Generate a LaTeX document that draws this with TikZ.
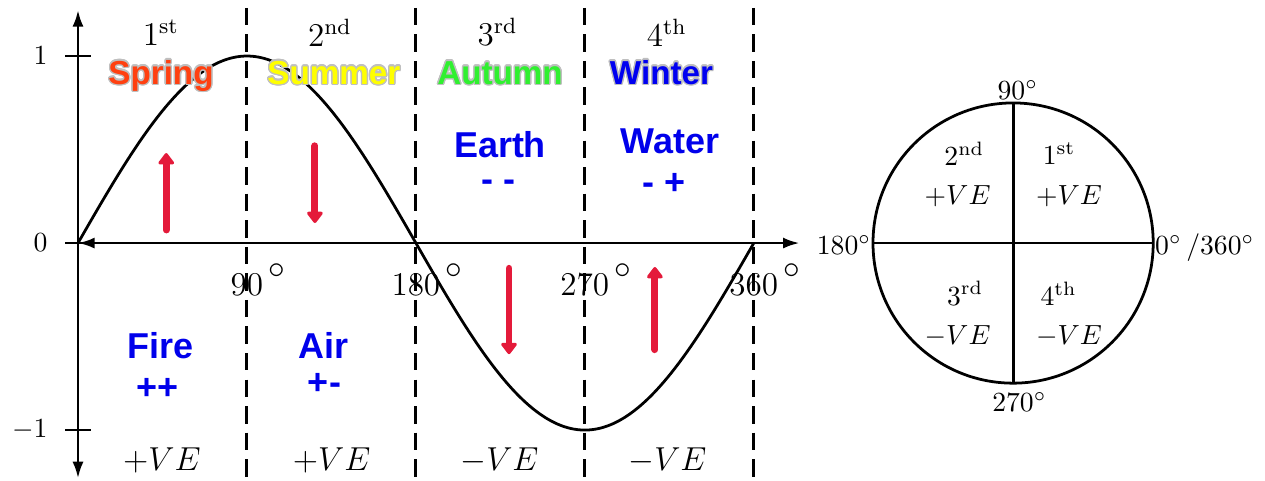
\documentclass[tikz,border=0pt]{standalone}
\usepackage{fontspec}
\usepackage{contour}
\usetikzlibrary{arrows.meta,positioning}
\newfontfamily\arialfont{Liberation Sans}
\definecolor{springred}{RGB}{255,64,16}
\definecolor{summeryellow}{RGB}{255,255,0}
\definecolor{autumngreen}{RGB}{48,240,48}
\definecolor{winterblue}{RGB}{0,0,240}
\definecolor{elemblue}{RGB}{0,0,235}
\definecolor{flowred}{RGB}{228,26,58}
\contourlength{0.5pt}

\begin{document}
\begin{tikzpicture}[
  axis/.style={line width=1pt, {Latex[length=6pt,width=4pt]}-{Latex[length=6pt,width=4pt]}},
  quarter/.style={line width=1.1pt, dash pattern=on 6.3pt off 3.3pt},
  season/.style={anchor=base, font=\arialfont\bfseries\fontsize{12}{14}\selectfont},
  element/.style={anchor=base, text=elemblue, font=\arialfont\bfseries\fontsize{13}{15}\selectfont},
  flow/.style={flowred, line width=2.5pt, line cap=round, -{Triangle[round, length=4.5pt, width=6.5pt]}},
  quadlabel/.style={font=\large},
  anglabel/.style={font=\large, inner sep=0pt},
  degsign/.style={font=\large, inner sep=0pt, anchor=west},
]
  \useasboundingbox (-0.991,-3.011) rectangle (15.08,3.088);

  % Sine graph: x in degrees, y in units
  \begin{scope}[x=0.023856cm, y=2.376cm]
    % Quarter separators and angle labels
    \foreach \a in {90,180,270,360} {
      \draw[quarter] (\a,1.258) -- (\a,-1.3);
      \node[anglabel] (ang\a) at (\a,-0.225) {$\a$};
      \node[degsign] (deg\a) at ([xshift=0.05cm,yshift=0.03cm]ang\a.north east) {$\circ$};
    }

    % Axes
    \draw[axis] (0,-1.258) -- (0,1.246);
    \draw[axis] (0,0) -- (384.4,0);
    \foreach \v in {-1,0,1} {
      \draw[line width=1pt] ([xshift=-0.165cm]0,\v) -- ([xshift=0.165cm]0,\v);
      \node[anchor=east, inner sep=0pt] (ylab\v) at ([xshift=-0.38cm]0,\v) {$\v$};
    }

    % Sine wave
    \draw[line width=1pt] plot[domain=0:360, samples=121, smooth] (\x,{sin(\x)});

    % Quadrant numbers
    \foreach \pos/\num/\sfx in {44.2/1/st, 134.2/2/nd, 223.5/3/rd, 313.7/4/th} {
      \node[quadlabel] (quad\num) at (\pos,1.126) {\num\textsuperscript{\sfx}};
    }

    % Seasons
    \node[season, text=springred]    (spring) at (44.2,0.85)  {\contour{gray!50}{Spring}};
    \node[season, text=summeryellow] (summer) at (136.3,0.85) {\contour{gray!50}{Summer}};
    \node[season, text=autumngreen]  (autumn) at (224.8,0.85) {\contour{gray!50}{Autumn}};
    \node[season, text=winterblue]   (winter) at (310.8,0.85) {\contour{gray!50}{Winter}};

    % Elements and signs
    \node[element] (earth)     at (224.8,0.46)   {Earth};
    \node[element] (earthsign) at (224,0.273)    {- -};
    \node[element] (water)     at (315.3,0.481)  {Water};
    \node[element] (watersign) at (312.1,0.259)  {- +};
    \node[element] (fire)      at (43.7,-0.615)  {Fire};
    \node[element] (firesign)  at (42.1,-0.838)  {++};
    \node[element] (air)       at (131,-0.615)   {Air};
    \node[element] (airsign)   at (131.3,-0.811) {+-};

    % Direction arrows
    \draw[flow] (47,0.07) -- (47,0.481);
    \draw[flow] (126.2,0.52) -- (126.2,0.107);
    \draw[flow] (229.6,-0.135) -- (229.6,-0.594);
    \draw[flow] (307.3,-0.57) -- (307.3,-0.128);

    % Sign of each quarter
    \foreach \pos/\sgn/\nm in {44.7/+/a, 135.1/+/b, 224.5/-/c, 314/-/d} {
      \node[quadlabel, anchor=base] (ve\nm) at (\pos,-1.214) {$\sgn VE$};
    }
  \end{scope}

  % Unit circle
  \begin{scope}[shift={(11.88,0)}]
    \coordinate (ctr) at (0,0);
    \draw[line width=1pt] (ctr) circle (1.78);
    \draw[line width=1pt] (-1.78,0) -- (1.78,0);
    \draw[line width=1pt] (0,-1.78) -- (0,1.78);

    \node[anchor=south, inner sep=1pt] (c90)  at (0.06,1.78)  {$90^\circ$};
    \node[anchor=north, inner sep=3pt] (c270) at (0.08,-1.78) {$270^\circ$};
    \node[anchor=base east, inner sep=0.5pt] (c180) at (-1.78,-0.15) {$180^\circ$};
    \node[anchor=base west, inner sep=0.5pt] (c0)   at (1.78,-0.15)  {$0^\circ\,/360^\circ$};

    \node (cq2) at (-0.62,1.137)  {2\textsuperscript{nd}};
    \node (cq1) at (0.585,1.137)  {1\textsuperscript{st}};
    \node (cq3) at (-0.61,-0.642) {3\textsuperscript{rd}};
    \node (cq4) at (0.578,-0.642) {4\textsuperscript{th}};
    \node (cs2) at (-0.705,0.59)  {$+VE$};
    \node (cs1) at (0.71,0.59)    {$+VE$};
    \node (cs3) at (-0.705,-1.188){$-VE$};
    \node (cs4) at (0.71,-1.188)  {$-VE$};
  \end{scope}
\end{tikzpicture}
\end{document}
